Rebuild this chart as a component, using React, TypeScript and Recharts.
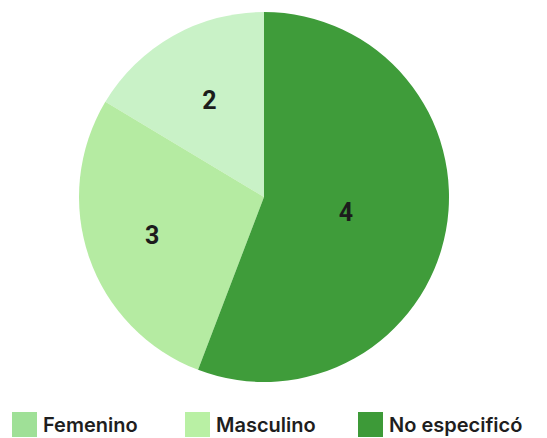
import React from 'react';
import { PieChart, Pie, Cell, Legend } from 'recharts';

// Category names, counts printed on the slices, and the share of the circle
// each slice actually takes up in the picture (the drawn angles do not follow the counts)
const categories = ['Femenino', 'Masculino', 'No especificó'];
const counts = [2, 3, 4];
const shares = [16.4, 27.8, 55.8];

const sliceColors = ['#c9f2c7', '#b5eba2', '#3f9c3a'];
const swatchColors = ['#9fe097', '#b9f0a4', '#3d9a38'];
// label distance from the centre, as a fraction of the radius
const labelRadius = [0.6, 0.64, 0.45];

const data = categories.map((name, i) => ({ name, value: shares[i], count: counts[i] }));

const RADIAN = Math.PI / 180;

const renderLabel = (props: any) => {
  const { cx, cy, midAngle, outerRadius, index } = props;
  const r = outerRadius * labelRadius[index];
  const x = cx + r * Math.cos(-midAngle * RADIAN);
  const y = cy + r * Math.sin(-midAngle * RADIAN);
  return (
    <text
      x={x}
      y={y}
      fill="#1c1c1c"
      textAnchor="middle"
      dominantBaseline="central"
      fontSize={25}
      fontWeight={700}
      fontFamily="Roboto, sans-serif"
    >
      {counts[index]}
    </text>
  );
};

const LegendContent = () => (
  <div style={{ display: 'flex', paddingLeft: 12 }}>
    {categories.map((name, i) => (
      <div key={name} style={{ width: 173, display: 'flex', alignItems: 'center' }}>
        <span style={{ width: 25, height: 25, background: swatchColors[i], display: 'inline-block' }} />
        <span
          style={{
            marginLeft: 6,
            fontFamily: 'Inter, sans-serif',
            fontWeight: 600,
            fontSize: 20,
            color: '#1e1e1e',
          }}
        >
          {name}
        </span>
      </div>
    ))}
  </div>
);

export default function App() {
  return (
    <>
      <style>{'body{margin:0;background:#fff}'}</style>
      <PieChart width={547} height={438} margin={{ top: 0, right: 0, bottom: 0, left: 0 }}>
        <Pie
          data={data}
          dataKey="value"
          nameKey="name"
          cx={264}
          cy={197}
          outerRadius={185}
          startAngle={90}
          endAngle={450}
          stroke="none"
          label={renderLabel}
          labelLine={false}
          isAnimationActive={false}
        >
          {data.map((d, i) => (
            <Cell key={d.name} fill={sliceColors[i]} />
          ))}
        </Pie>
        <Legend content={<LegendContent />} wrapperStyle={{ left: 0, top: 412, width: 547 }} />
      </PieChart>
    </>
  );
}
